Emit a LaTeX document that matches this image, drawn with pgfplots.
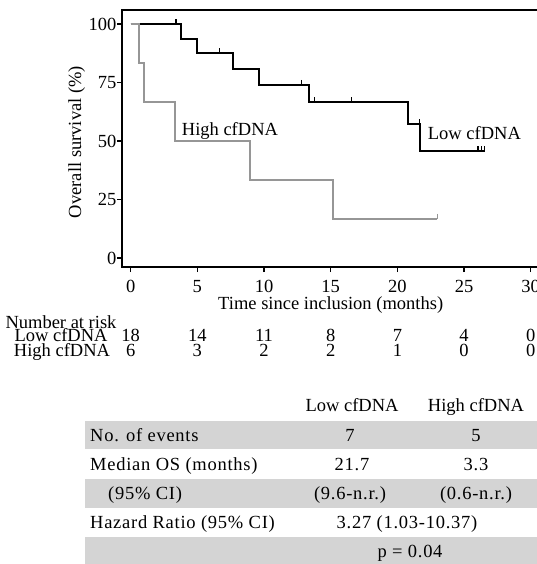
\documentclass[border=0pt]{standalone}
\usepackage{fontspec}
\setmainfont{Liberation Serif}
\newfontfamily\tablefont[LetterSpace=4]{Liberation Serif}
\usepackage{pgfplots}
\pgfplotsset{compat=1.18}
\newcommand\fs{\fontsize{18.5}{20}\selectfont}
\definecolor{kmgrey}{RGB}{150,150,150}
\definecolor{band}{RGB}{212,212,212}
\begin{document}
\begin{tikzpicture}[x=1pt,y=1pt]
\useasboundingbox (0,0) rectangle (537,-564);
% table bands
\fill[band] (85,-421) rectangle (545,-449);
\fill[band] (85,-479) rectangle (545,-508);
\fill[band] (85,-537) rectangle (545,-566);
\begin{axis}[
  at={(122pt,-267pt)}, anchor=south west,
  scale only axis, width=422pt, height=257pt,
  xmin=-0.65, xmax=31, ymin=-3.85, ymax=106,
  xtick={0,5,...,30}, ytick={0,25,50,75,100},
  xtick pos=left, ytick pos=left, tick align=outside,
  major tick length=5pt,
  tick style={black, line width=1.1pt},
  axis line style={line width=1.3pt},
  /pgf/number format/assume math mode=true,
  ticklabel style={font=\fs},
  xticklabel style={yshift=-5pt},
  yticklabel style={xshift=3pt},
  clip=false,
]
\addplot[black, line width=1.8pt, const plot] coordinates {
 (0,100) (3.75,93.75) (4.95,87.5) (7.7,80.77) (9.65,74.04) (13.35,66.63)
 (20.8,57.11) (21.7,45.69) (26.6,45.69)};
\addplot[black, line width=1.1pt, only marks, mark=|, mark size=2.5pt, mark options={yshift=2.5pt}] coordinates {
 (3.35,100) (3.47,100) (6.65,87.5) (12.8,74.04) (13.77,66.63) (16.57,66.63)
 (21.65,57.11) (26.05,45.69) (26.3,45.69) (26.55,45.69)};
\addplot[kmgrey, line width=1.8pt, const plot] coordinates {
 (0,100) (0.65,83.33) (1.0,66.67) (3.3,50) (8.97,33.33) (15.2,16.67) (23.0,16.67)};
\addplot[kmgrey, line width=1.1pt, only marks, mark=|, mark size=2.5pt, mark options={yshift=2.5pt}] coordinates {
 (23.0,16.67)};
\end{axis}
\begin{scope}[every node/.style={font=\fs, inner sep=0pt}]
\node[anchor=base west] at (181.7,-136) {High cfDNA};
\node[anchor=base west] at (427.7,-140) {Low cfDNA};
\node[anchor=base, rotate=90] at (81,-142) {Overall survival (\%)};
\node[anchor=base] at (330.7,-309) {Time since inclusion (months)};
\node[anchor=base] at (61,-328) {Number at risk};
\node[anchor=base] at (61,-341.5) {Low cfDNA};
\node[anchor=base] at (62,-356.5) {High cfDNA};
\foreach \x/\a/\b in {0/18/6, 1/14/3, 2/11/2, 3/8/2, 4/7/1, 5/4/0, 6/0/0} {
  \node[anchor=base] at (130.7+66.667*\x,-341.5) {\a};
  \node[anchor=base] at (130.7+66.667*\x,-356.5) {\b};
}
% table
\node[anchor=base] at (352,-411) {Low cfDNA};
\node[anchor=base] at (476,-411) {High cfDNA};
\node[anchor=base west] at (90,-441) {\tablefont No. of events};
\node[anchor=base] at (350,-441) {\tablefont 7};
\node[anchor=base] at (476,-441) {\tablefont 5};
\node[anchor=base west] at (90,-470) {\tablefont Median OS (months)};
\node[anchor=base] at (352,-470) {\tablefont 21.7};
\node[anchor=base] at (476,-470) {\tablefont 3.3};
\node[anchor=base west] at (108,-499) {\tablefont (95\% CI)};
\node[anchor=base] at (350,-499) {\tablefont (9.6-n.r.)};
\node[anchor=base] at (476,-499) {\tablefont (0.6-n.r.)};
\node[anchor=base west] at (90,-528) {\tablefont Hazard Ratio (95\% CI)};
\node[anchor=base] at (407,-528) {\tablefont 3.27 (1.03-10.37)};
\node[anchor=base] at (410,-557) {\tablefont p = 0.04};
\end{scope}
\end{tikzpicture}
\end{document}
